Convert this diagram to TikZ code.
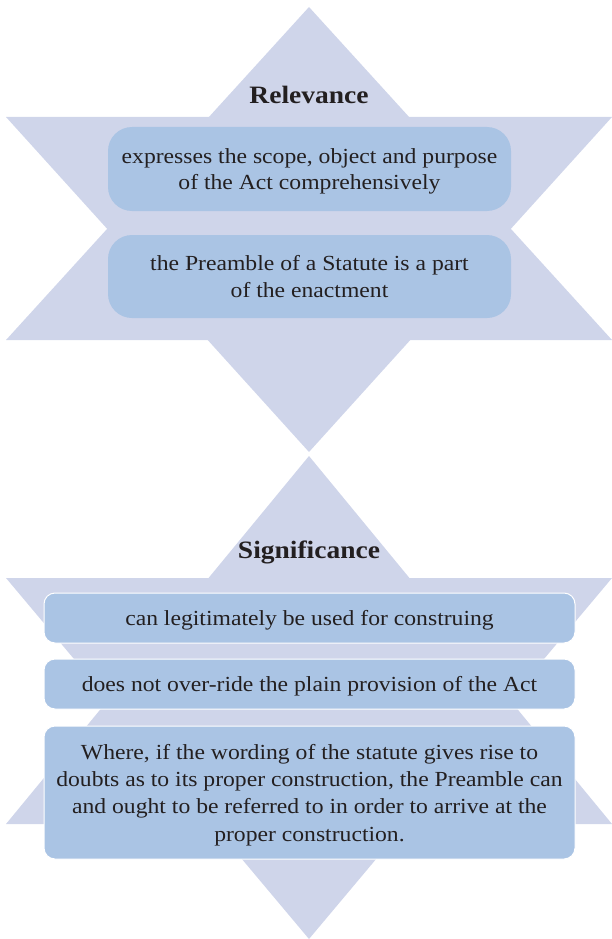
\documentclass[tikz,border=0pt]{standalone}
\usepackage{fontspec}
\setmainfont{Liberation Serif}[FakeStretch=1.1]
\usetikzlibrary{positioning}
\definecolor{ink}{RGB}{35,31,32}
\definecolor{cStar}{RGB}{207,213,234}
\definecolor{cBox}{RGB}{170,196,228}

\begin{document}
\begin{tikzpicture}[
  x=1pt, y=-1pt,
  star/.style={fill=cStar, draw=none},
  head/.style={font=\fontsize{25}{30}\selectfont\bfseries, text=ink, anchor=base},
  rel/.style={rounded corners=24pt, fill=cBox, align=center, text=ink, font=\fontsize{21.5}{26.5}\selectfont, text depth=0pt, minimum width=403pt, inner sep=0pt},
  sig/.style={rounded corners=11pt, fill=cBox, draw=white, line width=1pt, align=center, text=ink, font=\fontsize{21.5}{27.3}\selectfont, text depth=0pt, minimum width=531pt, inner sep=0pt},
]
\useasboundingbox (0,0) rectangle (611,939);

% ---- the first star ----
\fill[star] (309,7) -- (6,340) -- (612,340) -- cycle;
\fill[star] (6,117) -- (612,117) -- (309,452) -- cycle;

\node[head] (REL) at (309,103) {Relevance};

\node[rel, minimum height=84pt] (SCOPE) at (309.5,169) {%
  expresses the scope, object and purpose\\
  of the Act comprehensively};
\node[rel, minimum height=83pt] (PART) at (309.5,276.5) {%
  the Preamble of a Statute is a part\\
  of the enactment};

% ---- the second star ----
\fill[star] (309,456) -- (6,824) -- (612,824) -- cycle;
\fill[star] (6,578) -- (612,578) -- (309,939) -- cycle;

\node[head] (SIG) at (309,558) {Significance};

\node[sig, minimum height=50pt] (USE) at (309.5,618) {can legitimately be used for construing};
\node[sig, minimum height=50pt] (RIDE) at (309.5,684) {does not over-ride the plain provision of the Act};
\node[sig, minimum height=133pt] (DOUBT) at (309.5,792.5) {%
  Where, if the wording of the statute gives rise to\\
  doubts as to its proper construction, the Preamble can\\
  and ought to be referred to in order to arrive at the\\
  proper construction.};

\end{tikzpicture}
\end{document}
